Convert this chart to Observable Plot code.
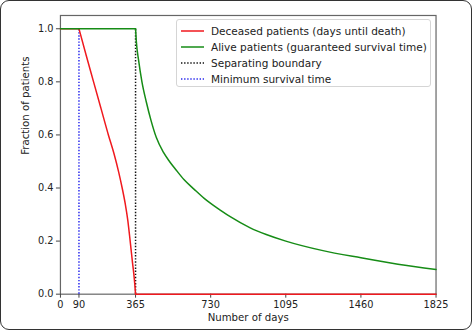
<!DOCTYPE html>
<html>
<head>
<meta charset="utf-8">
<script src="https://cdn.jsdelivr.net/npm/d3@7"></script>
<script src="https://cdn.jsdelivr.net/npm/@observablehq/plot@0.6"></script>
<style>
  html, body { margin: 0; padding: 0; background: #fff; }
  #wrap { position: relative; width: 472px; height: 330px; box-sizing: border-box;
          border: 1.5px solid #333; border-radius: 9px; overflow: hidden; background: #fff;
          font-family: "DejaVu Sans", sans-serif; }
  #chart { position: absolute; left: -1.5px; top: -1.5px; }
  #legend { position: absolute; left: 175px; top: 18px; width: 255px; height: 68px; box-sizing: border-box;
            border: 1px solid #d5d5d5; border-radius: 3px; background: rgba(255,255,255,0.85);
            font-size: 10.5px; color: #222; }
  .row { position: absolute; left: 4px; height: 14px; display: flex; align-items: center; white-space: nowrap; }
  .row svg { width: 23px; height: 6px; margin-right: 7px; }
</style>
</head>
<body>
<div id="wrap"><div id="chart"></div><div id="legend"></div></div>
<script>
// Deceased patients: fraction vs days until death
const redDays = [0, 90, 125, 161, 197, 233, 260, 283, 300, 315, 327, 336, 343, 350, 356, 361, 365, 1825];
const redFrac = [1.0, 1.0, 0.9, 0.8, 0.7, 0.6, 0.53, 0.46, 0.4, 0.34, 0.28, 0.22, 0.17, 0.12, 0.08, 0.04, 0.0, 0.0];
// Alive patients: guaranteed survival time
const greenDays = [0, 365, 369, 380, 396, 417, 440, 466, 500, 530, 560, 600, 650, 700, 730, 780, 825, 922, 1000, 1095, 1270, 1460, 1640, 1825];
const greenFrac = [1.0, 1.0, 0.95, 0.88, 0.80, 0.725, 0.655, 0.59, 0.535, 0.5, 0.47, 0.432, 0.395, 0.36, 0.342, 0.315, 0.292, 0.25, 0.225, 0.2, 0.165, 0.137, 0.113, 0.093];
const boundaryDay = [365];
const minSurvivalDay = [90];
const xTicks = [0, 90, 365, 730, 1095, 1460, 1825];
const yTicks = [0.0, 0.2, 0.4, 0.6, 0.8, 1.0];
const seriesNames = ["Deceased patients (days until death)", "Alive patients (guaranteed survival time)", "Separating boundary", "Minimum survival time"];
const seriesColors = ["#f0191e", "#168c16", "#111111", "#2a2aee"];
const seriesDash = [null, null, "1.4,1.7", "1.4,1.7"];
const xLabel = "Number of days";
const yLabel = "Fraction of patients";

const red = redDays.map((d, i) => ({day: d, frac: redFrac[i]}));
const green = greenDays.map((d, i) => ({day: d, frac: greenFrac[i]}));
const lo = minSurvivalDay[0], hi = boundaryDay[0];

const chart = Plot.plot({
  width: 472,
  height: 330,
  marginLeft: 60,
  marginRight: 36,
  marginTop: 15,
  marginBottom: 36,
  style: {fontFamily: "DejaVu Sans, sans-serif", fontSize: "9.8px", color: "#222", background: "transparent"},
  x: {domain: [0, 1825]},
  y: {domain: [0, 1.05]},
  marks: [
    Plot.frame({stroke: "#666", strokeWidth: 1.2}),
    Plot.axisX({ticks: xTicks, tickSize: 4, tickPadding: 3, tickFormat: d3.format("d"), label: null, stroke: "#444"}),
    Plot.axisY({ticks: yTicks, tickSize: 4, tickPadding: 3, tickFormat: d3.format(".1f"), label: null, stroke: "#444"}),
    Plot.ruleX(minSurvivalDay, {y1: 0, y2: 1, stroke: seriesColors[3], strokeWidth: 1.5, strokeDasharray: seriesDash[3]}),
    Plot.ruleX(boundaryDay, {y1: 0, y2: 1, stroke: seriesColors[2], strokeWidth: 1.5, strokeDasharray: seriesDash[2]}),
    Plot.line(red.filter(d => d.day <= lo), {x: "day", y: "frac", stroke: seriesColors[0], strokeWidth: 1.5}),
    Plot.line(red.filter(d => d.day >= lo && d.day <= hi), {x: "day", y: "frac", stroke: seriesColors[0], strokeWidth: 1.5, curve: "monotone-x"}),
    Plot.line(red.filter(d => d.day >= hi), {x: "day", y: "frac", stroke: seriesColors[0], strokeWidth: 1.5}),
    Plot.line(green.filter(d => d.day <= hi), {x: "day", y: "frac", stroke: seriesColors[1], strokeWidth: 1.5}),
    Plot.line(green.filter(d => d.day >= hi), {x: "day", y: "frac", stroke: seriesColors[1], strokeWidth: 1.5, curve: "monotone-x"}),
    Plot.text([xLabel], {frameAnchor: "bottom", dy: 27, fontSize: 10.2, fill: "#222"}),
    Plot.text([yLabel], {frameAnchor: "left", dx: -35, rotate: -90, fontSize: 10.2, fill: "#222"})
  ]
});
document.getElementById("chart").appendChild(chart);

const legend = document.getElementById("legend");
seriesNames.forEach((name, i) => {
  const row = document.createElement("div");
  row.className = "row";
  row.style.top = (4 + i * 16) + "px";
  const dash = seriesDash[i] ? `stroke-dasharray="${seriesDash[i]}"` : "";
  row.innerHTML = `<svg viewBox="0 0 23 6"><line x1="0" y1="3" x2="23" y2="3" stroke="${seriesColors[i]}" stroke-width="1.6" ${dash}/></svg><span>${name}</span>`;
  legend.appendChild(row);
});
</script>
</body>
</html>
